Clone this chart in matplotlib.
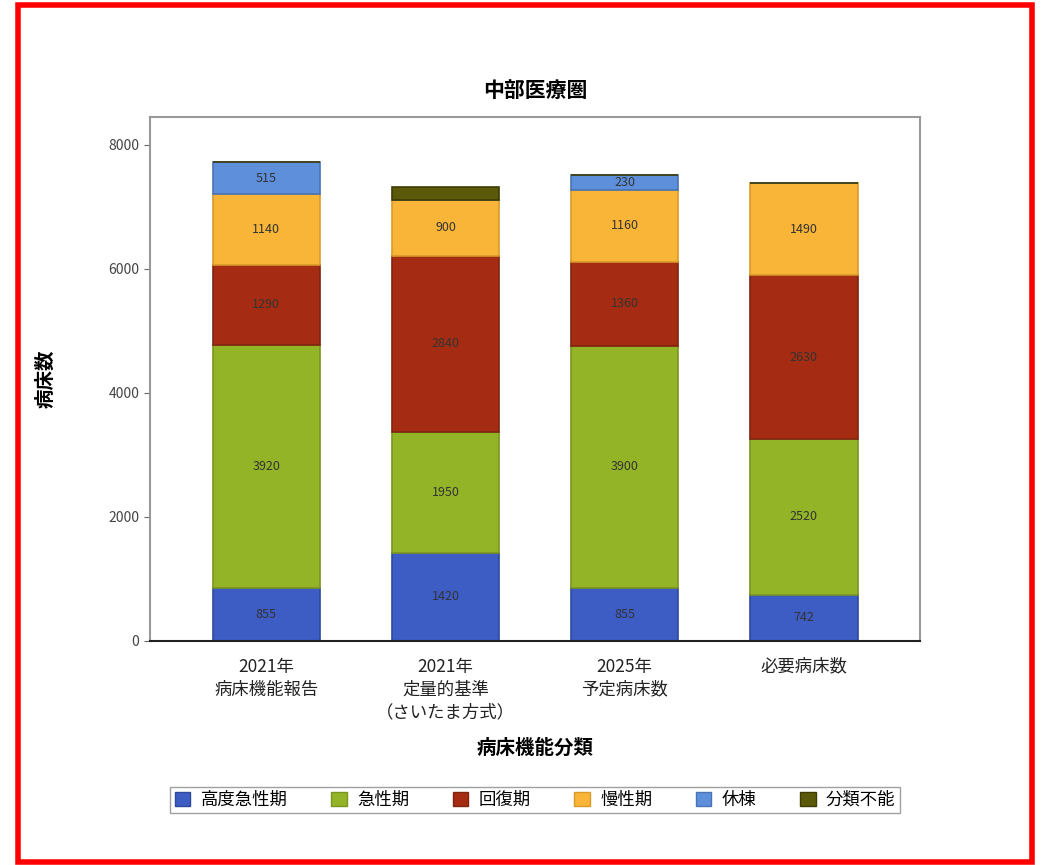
import matplotlib
matplotlib.use("Agg")
import matplotlib.pyplot as plt
import matplotlib.patches as mpatches
import numpy as np

plt.rcParams['font.family'] = ['Noto Sans CJK JP', 'DejaVu Sans']

categories = ["2021年\n病床機能報告", "2021年\n定量的基準\n（さいたま方式）", "2025年\n予定病床数", "必要病床数"]
series_names = ["高度急性期", "急性期", "回復期", "慢性期", "休棟", "分類不能"]
koudo = [855, 1420, 855, 742]
kyusei = [3920, 1950, 3900, 2520]
kaifuku = [1290, 2840, 1360, 2630]
mansei = [1140, 900, 1160, 1490]
kyuto = [515, 0, 230, 0]
bunrui = [0, 200, 0, 0]
yticks = [0, 2000, 4000, 6000, 8000]

series = [koudo, kyusei, kaifuku, mansei, kyuto, bunrui]
colors = ["#3D5CC4", "#93B426", "#A52C12", "#F9B537", "#5E8FDB", "#5B5A0A"]
edges = ["#2E4A9E", "#7A9520", "#7E2510", "#D99A2A", "#4A73B5", "#3E3D05"]

fig = plt.figure(figsize=(10.41, 8.65), dpi=100)
ax = fig.add_axes([0.144, 0.259, 0.740, 0.606])

x = np.arange(len(categories))
bottom = np.zeros(len(categories))
for name, vals, c, ec in zip(series_names, series, colors, edges):
    vals = np.array(vals, dtype=float)
    ax.bar(x, vals, 0.6, bottom=bottom, color=c, edgecolor=ec, linewidth=1.2, label=name)
    for xi, b, v in zip(x, bottom, vals):
        if v >= 220:
            ax.text(xi, b + v / 2, f"{int(v)}", ha="center", va="center",
                    fontsize=9, color="#333333")
    bottom += vals

ax.set_xlim(-0.65, 3.65)
ax.set_ylim(0, 8450)
ax.set_yticks(yticks)
ax.set_yticklabels([str(t) for t in yticks], fontsize=10, color="#444444")
ax.set_xticks(x)
ax.set_xticklabels(categories, fontsize=12.5, color="#222222", linespacing=1.35)
ax.tick_params(axis="x", length=0, pad=12)
ax.tick_params(axis="y", length=4, color="#666666", direction="out")

for s in ["top", "right", "left"]:
    ax.spines[s].set_color("#999999")
    ax.spines[s].set_linewidth(1.5)
ax.spines["bottom"].set_color("#222222")
ax.spines["bottom"].set_linewidth(1.5)

ax.set_title("中部医療圏", fontsize=15, fontweight="bold", pad=14)
ax.set_ylabel("病床数", fontsize=14, fontweight="bold", labelpad=38)
fig.text(0.514, 0.135, "病床機能分類", ha="center", va="center", fontsize=14, fontweight="bold")

handles = [mpatches.Patch(facecolor=c, edgecolor=ec) for c, ec in zip(colors, edges)]
leg = fig.legend(handles, series_names, loc="center", bbox_to_anchor=(0.514, 0.075), ncol=6,
                 fontsize=12.5, frameon=True, fancybox=False, edgecolor="#888888",
                 handlelength=0.9, handleheight=0.9, handletextpad=0.6, columnspacing=2.5,
                 borderpad=0.25)

border = mpatches.Rectangle((0.0173, 0.0035), 0.9737, 0.9905, transform=fig.transFigure,
                            fill=False, edgecolor="#FF0000", linewidth=4)
fig.patches.append(border)

fig.savefig("out.png", dpi=100, facecolor="white")
